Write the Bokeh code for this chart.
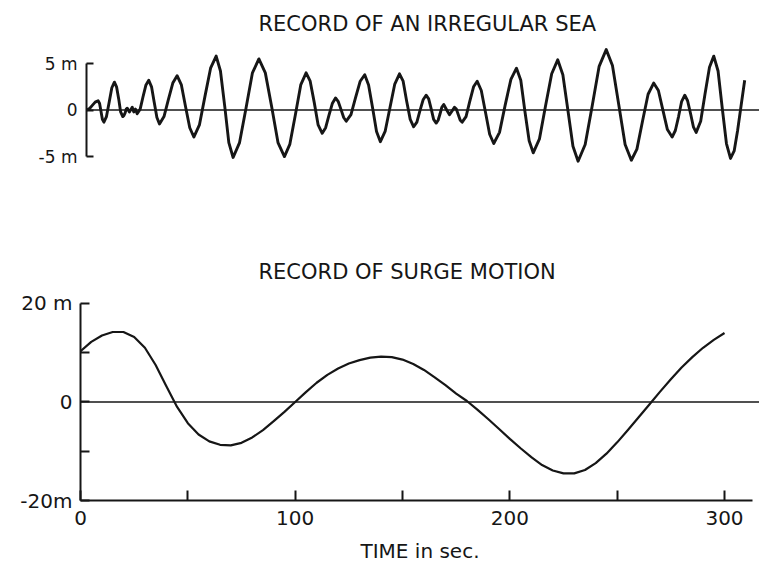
from bokeh.plotting import figure
from bokeh.models import Span, FixedTicker, Title, Range1d
from bokeh.embed import file_html
from bokeh.resources import INLINE

# ---------------- data ----------------
# Record of an irregular sea: time (s) and surface elevation (m)
sea_t = [0, 1.35, 2.7, 4.05, 5.4,
         6.1, 6.8, 7.4, 8.1,
         9.3, 10.6, 11.8, 13.0,
         14.0, 15.0, 15.9, 16.9,
         17.4, 18.0, 18.5, 19.0,
         20.0, 21.3, 22.0, 22.8, 23.6,
         25.0, 26.3, 27.7, 29.0,
         30.3, 31.5, 32.8, 34.0,
         36.1, 38.1, 40.2, 42.2,
         44.2, 46.1, 48.1, 50.0,
         52.6, 55.2, 57.8, 60.4,
         62.4, 64.4, 66.3, 68.3,
         71.3, 74.3, 77.3, 80.3,
         83.3, 86.3, 89.2, 92.2,
         94.7, 97.3, 99.8, 102.3,
         104.2, 106.1, 107.9, 109.8,
         111.4, 112.9, 114.5, 116.0,
         117.3, 118.5, 119.8, 121.0,
         123.2, 125.3, 127.5, 129.6,
         131.4, 133.3, 135.1, 136.9,
         139.1, 141.4, 143.6, 145.8,
         147.5, 149.1, 150.8, 152.4,
         153.9, 155.3, 156.8, 158.2,
         159.4, 160.6, 161.7, 162.9,
         163.8, 164.7, 165.5, 166.4,
         167.8, 169.1,
         170.3, 171.4,
         172.3, 173.2, 174.1, 175.0,
         176.8, 178.5, 180.3, 182.0,
         183.9, 185.9, 187.8, 189.7,
         192.4, 195.0, 197.7, 200.3,
         202.3, 204.2, 206.2, 208.1,
         211.0, 213.8, 216.7, 219.5,
         221.9, 224.3, 226.6, 229.0,
         232.3, 235.6, 238.8, 242.1,
         245.0, 248.0, 250.9, 253.8,
         256.4, 259.0, 261.6, 264.2,
         266.4, 268.5, 270.6, 272.8,
         274.3, 275.8, 277.2, 278.7,
         280.0, 281.4, 282.7, 284.0,
         286.1, 288.1, 290.2, 292.2,
         294.2, 296.1, 298.1, 300.0,
         301.7, 303.3, 305.0, 306.6]
sea_v = [0.0, 0.15, 0.5, 0.85, 1.0,
         0.7, -0.2, -1.0, -1.3,
         -0.7, 0.9, 2.4, 3.0,
         2.5, 1.2, -0.2, -0.7,
         -0.6, -0.3, 0.1, 0.2,
         -0.2, 0.3, -0.2, 0.1, -0.4,
         0.1, 1.4, 2.7, 3.2,
         2.5, 0.9, -0.8, -1.5,
         -0.7, 1.1, 2.9, 3.7,
         2.7, 0.4, -1.9, -2.9,
         -1.6, 1.5, 4.5, 5.8,
         4.2, 0.4, -3.5, -5.1,
         -3.5, 0.2, 4.0, 5.5,
         4.0, 0.3, -3.5, -5.0,
         -3.7, -0.5, 2.7, 4.0,
         3.1, 0.8, -1.6, -2.5,
         -1.9, -0.6, 0.7, 1.3,
         0.9, 0.1, -0.8, -1.2,
         -0.5, 1.3, 3.1, 3.8,
         2.7, 0.2, -2.3, -3.4,
         -2.3, 0.3, 2.8, 3.9,
         3.1, 1.0, -1.0, -1.8,
         -1.3, -0.1, 1.1, 1.6,
         1.2, 0.1, -1.0, -1.4,
         -1.1, -0.4, 0.3, 0.6,
         0.0, -0.5,
         -0.1, 0.3,
         0.1, -0.5, -1.1, -1.3,
         -0.7, 0.9, 2.5, 3.1,
         2.1, -0.3, -2.6, -3.6,
         -2.4, 0.5, 3.3, 4.5,
         3.2, -0.1, -3.3, -4.6,
         -3.1, 0.4, 3.9, 5.4,
         3.8, -0.1, -3.9, -5.5,
         -3.7, 0.5, 4.7, 6.5,
         4.8, 0.5, -3.7, -5.4,
         -4.2, -1.2, 1.7, 2.9,
         2.1, 0.0, -2.1, -2.9,
         -2.2, -0.7, 0.9, 1.6,
         1.0, -0.4, -1.8, -2.4,
         -1.2, 1.7, 4.6, 5.8,
         4.2, 0.3, -3.6, -5.2,
         -4.4, -2.2, 0.6, 3.2]

# Record of surge motion: time (s) every 5 s, displacement (m)
surge_t = list(range(0, 301, 5))
surge_v = [10.3, 12.2, 13.5, 14.2, 14.2, 13.2, 11.0, 7.5, 3.2, -1.0,
           -4.3, -6.6, -8.0, -8.7, -8.8, -8.3, -7.2, -5.7, -3.9, -2.0,
           0.0, 2.0, 3.9, 5.5, 6.8, 7.8, 8.5, 9.0, 9.2, 9.1,
           8.6, 7.7, 6.5, 5.0, 3.4, 1.7, 0.2, -1.6, -3.5, -5.5,
           -7.5, -9.4, -11.2, -12.8, -13.9, -14.5, -14.5, -13.8, -12.4, -10.5,
           -8.2, -5.7, -3.1, -0.5, 2.1, 4.6, 7.0, 9.1, 11.0, 12.6,
           14.0]

sea_ticks = [-5, 0, 5]
sea_labels = {5: "5 m", 0: "0", -5: "-5 m"}
surge_yticks = [-20, -10, 0, 10, 20]
surge_ylabels = {20: "20 m", 10: "", 0: "0", -10: "", -20: "-20m"}
time_ticks = [0, 50, 100, 150, 200, 250, 300]
time_labels = {0: "0", 50: "", 100: "100", 150: "", 200: "200", 250: "", 300: "300"}

FONT = "DejaVu Sans"
INK = "#161616"


def style(p):
    p.outline_line_color = None
    p.grid.visible = False
    p.background_fill_color = "white"
    p.border_fill_color = "white"


def style_axis(ax, size):
    ax.axis_line_color = INK
    ax.axis_line_width = 2
    ax.major_tick_line_color = INK
    ax.major_tick_line_width = 2
    ax.major_tick_out = 0
    ax.minor_tick_in = 0
    ax.minor_tick_out = 0
    ax.major_label_text_font = FONT
    ax.major_label_text_font_size = size
    ax.major_label_text_color = INK


# ---------------- top panel ----------------
top = figure(width=759, height=175, output_backend="svg", toolbar_location=None,
             x_range=Range1d(0, 313.5), y_range=Range1d(-6.5, 7.05),
             min_border_left=86, min_border_right=0, min_border_top=44,
             min_border_bottom=5, x_axis_location=None)
style(top)
top.title = Title(text="RECORD OF AN IRREGULAR SEA", align="left", offset=172,
                  text_font=FONT, text_font_size="21px", text_font_style="normal",
                  text_color=INK, standoff=18)
ya = top.yaxis[0]
style_axis(ya, "17px")
ya.bounds = (-5, 5)
ya.ticker = FixedTicker(ticks=sea_ticks)
ya.major_label_overrides = sea_labels
ya.major_tick_in = 7
ya.major_label_standoff = 9
top.add_layout(Span(location=0, dimension="width", line_color=INK, line_width=1.6))
top.line(sea_t, sea_v, line_color=INK, line_width=2.9, line_join="round")

# ---------------- bottom panel ----------------
bot = figure(width=759, height=394, output_backend="svg", toolbar_location=None,
             x_range=Range1d(0, 316.3), y_range=Range1d(-20, 21),
             min_border_left=80, min_border_right=0, min_border_top=123,
             min_border_bottom=69)
style(bot)
bot.title = Title(text="RECORD OF SURGE MOTION", align="left", offset=178,
                  text_font=FONT, text_font_size="21px", text_font_style="normal",
                  text_color=INK, standoff=29)
yb = bot.yaxis[0]
style_axis(yb, "20px")
yb.bounds = (-20, 20)
yb.ticker = FixedTicker(ticks=surge_yticks)
yb.major_label_overrides = surge_ylabels
yb.major_tick_in = 9
yb.major_label_standoff = 8
xb = bot.xaxis[0]
style_axis(xb, "20px")
xb.bounds = (0, 313)
xb.ticker = FixedTicker(ticks=time_ticks)
xb.major_label_overrides = time_labels
xb.major_tick_in = 10
xb.major_label_standoff = 10
xb.axis_label = "TIME in sec."
xb.axis_label_text_font = FONT
xb.axis_label_text_font_size = "20px"
xb.axis_label_text_font_style = "normal"
xb.axis_label_text_color = INK
xb.axis_label_standoff = 11
bot.add_layout(Span(location=0, dimension="width", line_color=INK, line_width=1.6))
bot.line(surge_t, surge_v, line_color=INK, line_width=2.2, line_join="round")

open("out.html", "w").write(file_html([top, bot], INLINE))
